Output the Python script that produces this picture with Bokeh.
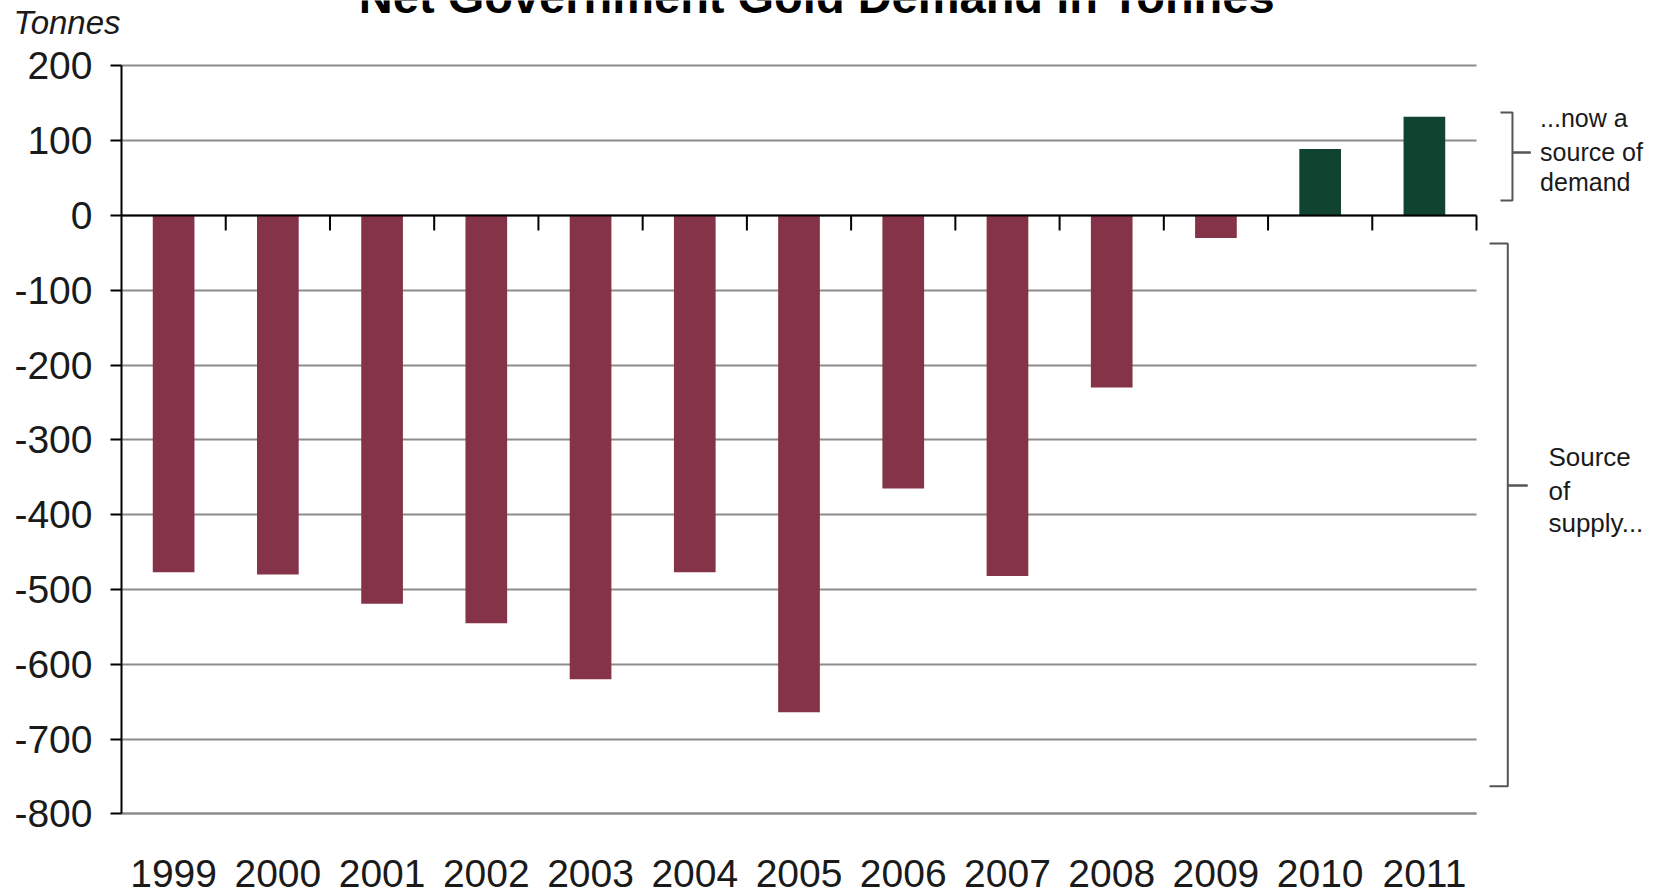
from bokeh.plotting import figure
from bokeh.models import Range1d, FixedTicker
from bokeh.core.properties import value
from bokeh.embed import file_html
from bokeh.resources import INLINE

# ---------------- data ----------------
TITLE = "Net Government Gold Demand in Tonnes"
Y_UNIT = "Tonnes"
years = ["1999", "2000", "2001", "2002", "2003", "2004", "2005",
         "2006", "2007", "2008", "2009", "2010", "2011"]
demand = [-477, -480, -519, -545, -620, -477, -664,
          -365, -482, -230, -30, 89, 132]
y_ticks = [-800, -700, -600, -500, -400, -300, -200, -100, 0, 100, 200]
demand_note = ["...now a", "source of", "demand"]
supply_note = ["Source", "of", "supply..."]

NEG = "#853348"
POS = "#104430"
GRID = "#8c8c8c"
SANS = "Liberation Sans"

n = len(years)
centers = [i + 0.5 for i in range(n)]
colors = [POS if v > 0 else NEG for v in demand]

p = figure(width=1653, height=894,
           x_range=Range1d(-1.1609, 14.698), y_range=Range1d(-907.8, 287.43),
           output_backend="svg", toolbar_location=None,
           min_border_left=0, min_border_right=0,
           min_border_top=0, min_border_bottom=0,
           outline_line_color=None, background_fill_color="white",
           border_fill_color="white")

# grid
p.xgrid.visible = False
p.ygrid.ticker = FixedTicker(ticks=y_ticks)
p.ygrid.grid_line_color = GRID
p.ygrid.grid_line_width = 2
try:
    p.ygrid.cross_bounds = (0, n)
except Exception:
    pass

# bars
p.vbar(x=centers, top=demand, bottom=0, width=0.40,
       fill_color=colors, line_color=None)

# zero line with category boundary ticks
p.segment(x0=[0], y0=[0], x1=[n], y1=[0], line_color="black", line_width=2)
bounds_x = list(range(1, n + 1))
p.segment(x0=bounds_x, y0=[0] * n, x1=bounds_x, y1=[-20] * n,
          line_color="black", line_width=2)

# y axis, pinned at x = 0
ya = p.yaxis[0]
ya.fixed_location = 0
ya.ticker = FixedTicker(ticks=y_ticks)
ya.major_label_overrides = {v: str(v) for v in y_ticks}
ya.bounds = (y_ticks[0], y_ticks[-1])
ya.axis_line_color = "black"
ya.axis_line_width = 2
ya.major_tick_out = 11
ya.major_tick_in = 0
ya.major_tick_line_width = 2
ya.major_tick_line_color = "black"
ya.minor_tick_line_color = None
ya.major_label_text_font = SANS
ya.major_label_text_font_size = "39px"
ya.major_label_text_color = "#1a1a1a"
ya.major_label_standoff = 18

# x axis, pinned at y = -800
xa = p.xaxis[0]
xa.fixed_location = y_ticks[0]
xa.ticker = FixedTicker(ticks=centers)
xa.major_label_overrides = {c: y for c, y in zip(centers, years)}
xa.bounds = (0, n)
xa.axis_line_color = GRID
xa.axis_line_width = 2
xa.major_tick_line_color = None
xa.major_tick_out = 0
xa.major_tick_in = 0
xa.minor_tick_line_color = None
xa.major_label_text_font = SANS
xa.major_label_text_font_size = "39px"
xa.major_label_text_color = "#1a1a1a"
xa.major_label_standoff = 46

# title (partly cut off at the top, as in the reference)
p.text(x=[6.67], y=[293.4], text=[TITLE], text_font=value(SANS),
       text_font_style="bold", text_font_size="47px", text_align="center",
       text_baseline="alphabetic", text_color="black")

# unit label
p.text(x=[-1.036], y=[258], text=[Y_UNIT], text_font=value(SANS),
       text_font_style="italic", text_font_size="33px",
       text_baseline="alphabetic", text_color="#1a1a1a")

# braces on the right
p.multi_line(
    xs=[[13.23, 13.345, 13.345, 13.52], [13.52, 13.345, 13.345, 13.23],
        [13.125, 13.30, 13.30, 13.49], [13.49, 13.30, 13.30, 13.125]],
    ys=[[137.7, 137.7, 84.2, 84.2], [84.2, 84.2, 20.1, 20.1],
        [-37.4, -37.4, -361, -361], [-361, -361, -763, -763]],
    line_color="#555555", line_width=2)

p.text(x=[13.61] * 3, y=[130.6, 84.7, 44.6], text=demand_note,
       text_font=value(SANS), text_font_size="25px",
       text_baseline="alphabetic", text_color="#1a1a1a")
p.text(x=[13.69] * 3, y=[-323.5, -369.0, -411.7], text=supply_note,
       text_font=value(SANS), text_font_size="26px",
       text_baseline="alphabetic", text_color="#1a1a1a")

open("out.html", "w").write(file_html(p, INLINE))
